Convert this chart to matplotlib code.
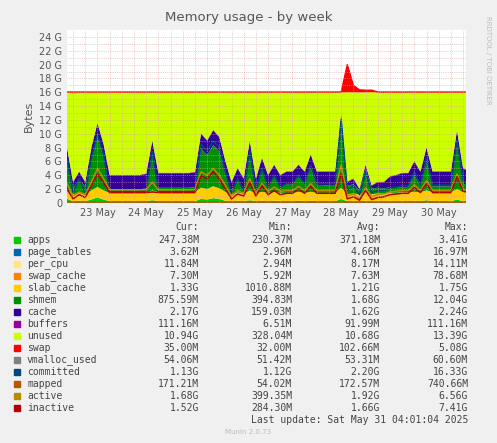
import numpy as np
import matplotlib.pyplot as plt

# time in days of May, 3-hour steps starting 22 May 09:00
start_day = 22.375
step = 0.125

# total used (top of cache band), GB
used_total = [8, 3, 4.5, 3, 8, 11.5, 8.5, 4, 4, 4,
              4, 4, 4, 4.2, 9, 4.3, 4.3, 4.3, 4.3, 4.3,
              4.3, 4.4, 10, 9, 10.5, 9.5, 6, 3, 5, 3.5,
              9, 3.5, 6.5, 4, 5.5, 4, 4.5, 4.5, 5.5, 4.5,
              7, 4.5, 4.5, 4.5, 4.5, 13, 3, 3.5, 2, 5.5,
              2.5, 3, 3, 3.8, 4, 4.3, 4.3, 6, 4.5, 8,
              4.5, 4.5, 4.5, 4.5, 10.5, 5, 4.5, 4.6, 4.6, 4.6]
apps = [0.6, 0.25, 0.3, 0.25, 0.5, 0.8, 0.5, 0.25, 0.25, 0.25,
        0.25, 0.25, 0.25, 0.25, 0.4, 0.25, 0.25, 0.25, 0.25, 0.25,
        0.25, 0.25, 0.6, 0.5, 0.7, 0.6, 0.3, 0.25, 0.3, 0.25,
        0.4, 0.25, 0.3, 0.25, 0.3, 0.25, 0.25, 0.25, 0.3, 0.25,
        0.3, 0.25, 0.25, 0.25, 0.25, 0.6, 0.25, 0.25, 0.23, 0.3,
        0.23, 0.25, 0.25, 0.25, 0.25, 0.25, 0.25, 0.3, 0.25, 0.4,
        0.25, 0.25, 0.25, 0.25, 0.5, 0.25, 0.25, 0.25, 0.25, 0.25]
slab_cache = [1.3, 1.0, 1.1, 1.0, 1.3, 1.5, 1.3, 1.2, 1.2, 1.2,
              1.2, 1.2, 1.2, 1.2, 1.4, 1.3, 1.3, 1.3, 1.3, 1.3,
              1.3, 1.3, 1.6, 1.5, 1.7, 1.5, 1.3, 1.0, 1.2, 1.1,
              1.4, 1.1, 1.3, 1.2, 1.3, 1.2, 1.2, 1.2, 1.3, 1.2,
              1.3, 1.2, 1.2, 1.2, 1.2, 1.6, 1.0, 1.1, 1.0, 1.2,
              1.0, 1.1, 1.1, 1.2, 1.2, 1.3, 1.3, 1.3, 1.3, 1.4,
              1.3, 1.3, 1.3, 1.3, 1.5, 1.3, 1.3, 1.33, 1.33, 1.33]
cache = [2.0, 0.8, 1.2, 0.6, 1.6, 2.0, 1.8, 2.0, 2.0, 2.0,
         2.0, 2.0, 2.0, 2.1, 2.1, 2.1, 2.1, 2.1, 2.1, 2.1,
         2.1, 2.1, 2.1, 2.1, 2.1, 2.1, 2.0, 1.2, 1.6, 1.5,
         1.6, 1.5, 1.6, 1.6, 1.6, 1.7, 1.8, 1.8, 1.8, 1.8,
         1.9, 1.9, 1.9, 2.0, 2.0, 2.0, 0.5, 0.8, 0.2, 0.6,
         0.4, 0.8, 0.9, 1.5, 1.8, 2.0, 2.0, 2.0, 2.1, 2.1,
         2.1, 2.1, 2.1, 2.1, 2.1, 2.15, 2.17, 2.17, 2.17, 2.17]
page_tables = [0.0036] * 70
per_cpu = [0.0118] * 70
swap_cache = [0.0073] * 70
buffers = [0.09] * 70
swap = [0.035] * 46 + [4.0, 1.0, 0.35, 0.3, 0.3] + [0.035] * 19
ram_total = 16.0

inactive = [2.0, 0.6, 1.2, 0.8, 2.5, 4.2, 3.0, 1.5, 1.5, 1.5,
            1.5, 1.5, 1.5, 1.5, 1.6, 1.5, 1.5, 1.5, 1.5, 1.5,
            1.5, 1.5, 4.0, 3.5, 4.5, 3.5, 2.0, 0.6, 1.3, 1.0,
            3.0, 1.0, 2.5, 1.2, 1.8, 1.2, 1.4, 1.4, 2.0, 1.4,
            2.4, 1.4, 1.4, 1.4, 1.4, 4.2, 0.6, 0.9, 0.4, 1.8,
            0.5, 0.8, 0.9, 1.2, 1.3, 1.4, 1.4, 2.2, 1.5, 2.8,
            1.5, 1.5, 1.5, 1.5, 3.8, 1.7, 1.5, 1.52, 1.52, 1.52]
active = [2.8, 1.0, 1.6, 1.2, 3.0, 5.0, 3.5, 1.9, 1.9, 1.9,
          1.9, 1.9, 1.9, 1.9, 3.0, 1.9, 1.9, 1.9, 1.9, 1.9,
          1.9, 1.9, 4.5, 4.0, 5.0, 4.0, 2.5, 1.0, 1.8, 1.4,
          3.5, 1.4, 2.8, 1.7, 2.3, 1.7, 1.8, 1.8, 2.4, 1.8,
          2.8, 1.8, 1.8, 1.8, 1.8, 5.5, 1.0, 1.3, 0.6, 2.2,
          0.9, 1.2, 1.3, 1.6, 1.7, 1.8, 1.8, 2.6, 1.8, 3.2,
          1.8, 1.8, 1.8, 1.8, 4.2, 2.0, 1.7, 1.68, 1.68, 1.68]
committed = [6.5, 1.5, 3.5, 1.5, 6.5, 10.0, 7.0, 1.6, 1.6, 1.6,
             1.6, 1.6, 1.6, 1.8, 7.5, 1.6, 1.6, 1.6, 1.6, 1.6,
             1.6, 1.8, 8.5, 7.5, 9.0, 8.0, 4.5, 1.4, 3.5, 1.8,
             7.5, 1.8, 5.0, 2.3, 4.0, 2.3, 2.8, 2.8, 4.0, 2.8,
             5.5, 2.8, 2.8, 2.8, 2.8, 12.0, 1.8, 2.5, 1.2, 4.5,
             1.5, 1.8, 1.8, 2.2, 2.3, 2.5, 2.5, 4.5, 2.6, 6.5,
             2.6, 2.6, 2.6, 2.6, 9.0, 3.2, 2.6, 1.13, 1.13, 1.13]
mapped = [0.17] * 70
vmalloc_used = [0.054] * 70

names = ['apps', 'page_tables', 'per_cpu', 'swap_cache', 'slab_cache', 'shmem',
         'cache', 'buffers', 'unused', 'swap', 'vmalloc_used', 'committed',
         'mapped', 'active', 'inactive']
colors = ['#00CC00', '#0066B3', '#FFE680', '#FF8000', '#FFCC00', '#008F00',
          '#330099', '#990099', '#CCFF00', '#FF0000', '#808080', '#00487D',
          '#B35A00', '#B38F00', '#B30000']
cur = ['247.38M', '3.62M', '11.84M', '7.30M', '1.33G', '875.59M', '2.17G', '111.16M',
       '10.94G', '35.00M', '54.06M', '1.13G', '171.21M', '1.68G', '1.52G']
mins = ['230.37M', '2.96M', '2.94M', '5.92M', '1010.88M', '394.83M', '159.03M', '6.51M',
        '328.04M', '32.00M', '51.42M', '1.12G', '54.02M', '399.35M', '284.30M']
avgs = ['371.18M', '4.66M', '8.17M', '7.63M', '1.21G', '1.68G', '1.62G', '91.99M',
        '10.68G', '102.66M', '53.31M', '2.20G', '172.57M', '1.92G', '1.66G']
maxs = ['3.41G', '16.97M', '14.11M', '78.68M', '1.75G', '12.04G', '2.24G', '111.16M',
        '13.39G', '5.08G', '60.60M', '16.33G', '740.66M', '6.56G', '7.41G']

n = len(used_total)
x = start_day + step * np.arange(n)
used = np.array(used_total)
small = np.array(page_tables) + np.array(per_cpu) + np.array(swap_cache)
shmem = np.clip(used - np.array(apps) - small - np.array(slab_cache) - np.array(cache), 0.05, None)
unused = ram_total - used - np.array(buffers)
stack = [apps, page_tables, per_cpu, swap_cache, slab_cache, shmem, cache, buffers, unused, swap]

fig = plt.figure(figsize=(4.97, 4.43), dpi=100, facecolor='#F0F0F0')
ax = fig.add_axes([67 / 497, (443 - 203) / 443, 399 / 497, 173 / 443])
ax.stackplot(x, *[np.array(s) for s in stack], colors=colors[:10], linewidth=0)
for vals, c in zip([vmalloc_used, committed, mapped, active, inactive], colors[10:]):
    ax.plot(x, vals, color=c, lw=1.1)
# swap top edge line
ax.plot(x, ram_total + np.array(swap), color='#FF0000', lw=1)

ax.set_xlim(start_day, 30.56)
ax.set_ylim(0, 25)
ax.set_yticks(range(0, 25, 2))
ax.set_yticklabels(['0'] + ['%d G' % v for v in range(2, 25, 2)])
ax.set_yticks(range(0, 25), minor=True)
days = list(range(23, 31))
ax.set_xticks(days)
ax.set_xticklabels(['%d May' % d for d in days])
ax.set_xticks(np.arange(22.5, 30.6, 0.25), minor=True)
ax.grid(which='both', color='#E0A0A0', ls=':', lw=0.5)
ax.set_axisbelow(False)
ax.tick_params(labelsize=7, colors='#555555', length=0, which='both')
for s in ax.spines.values():
    s.set_visible(False)
ax.set_ylabel('Bytes', fontsize=8, color='#555555')

fig.text(0.5, 1 - 18 / 443, 'Memory usage - by week', ha='center', va='center',
         fontsize=9.5, color='#555555')
fig.text(488 / 497, 1 - 60 / 443, 'RRDTOOL / TOBI OETIKER', rotation=270, ha='center',
         va='center', fontsize=5, color='#BBBBBB')

mono = 'DejaVu Sans Mono'
fs = 7
def fy(py):
    return 1 - py / 443

for txt, px in [('Cur:', 199), ('Min:', 292), ('Avg:', 380), ('Max:', 468)]:
    fig.text(px / 497, fy(227), txt, ha='right', va='center', family=mono, fontsize=fs, color='#444444')
for i, name in enumerate(names):
    py = 240 + 12 * i
    fig.patches.append(plt.Rectangle((14 / 497, fy(py + 3)), 6 / 497, 6 / 443,
                                     transform=fig.transFigure, color=colors[i]))
    fig.text(27 / 497, fy(py), name, ha='left', va='center', family=mono, fontsize=fs, color='#444444')
    for val, px in [(cur[i], 199), (mins[i], 292), (avgs[i], 380), (maxs[i], 468)]:
        fig.text(px / 497, fy(py), val, ha='right', va='center', family=mono, fontsize=fs, color='#444444')
fig.text(468 / 497, fy(420), 'Last update: Sat May 31 04:01:04 2025', ha='right', va='center',
         family=mono, fontsize=fs, color='#444444')
fig.text(0.5, fy(432), 'Munin 2.0.73', ha='center', va='center', fontsize=5, color='#BBBBBB')

fig.savefig('out.png', dpi=100, facecolor=fig.get_facecolor())
